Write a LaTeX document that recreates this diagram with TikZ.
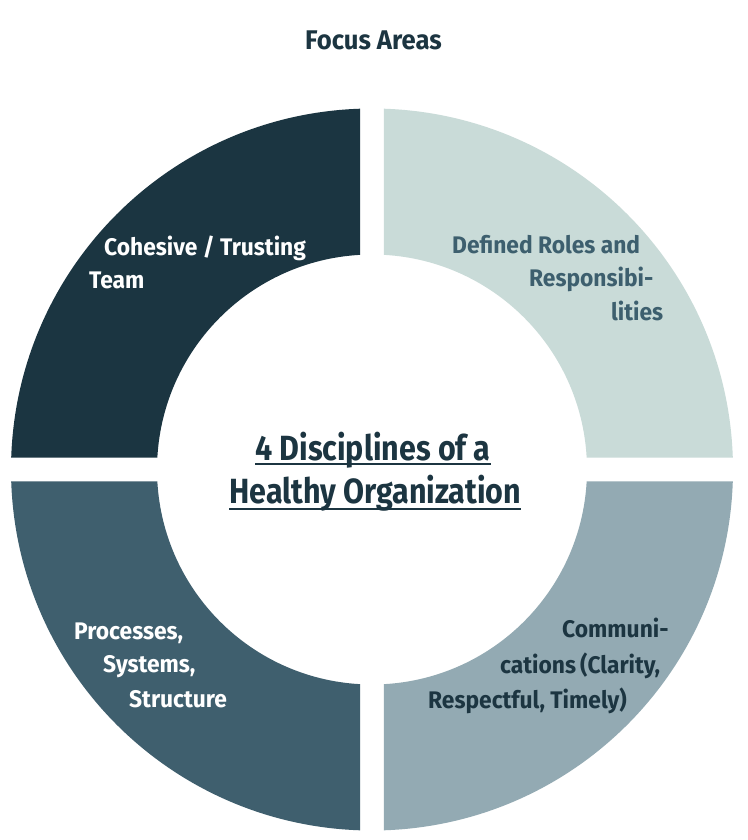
\documentclass[tikz,border=0pt]{standalone}
\usepackage{fontspec}
\setmainfont{Fira Sans}
\newfontfamily\labfont{Fira Sans}[FakeStretch=0.95]
\newfontfamily\titfont{Fira Sans}[FakeStretch=0.87]
\newfontfamily\headfont{Fira Sans}[FakeStretch=0.95]
\usetikzlibrary{calc}
\definecolor{segA}{HTML}{1B3541}
\definecolor{segB}{HTML}{C9DBD8}
\definecolor{segC}{HTML}{3F5F6E}
\definecolor{segD}{HTML}{93AAB3}
\definecolor{txtdark}{HTML}{1C3541}
\definecolor{txtmid}{HTML}{3D5F6E}
\tikzset{
  lab/.style={inner sep=0pt, anchor=base west, font=\labfont\bfseries\fontsize{24}{28}\selectfont},
  tit/.style={inner sep=0pt, anchor=base west, font=\titfont\bfseries\fontsize{35}{42}\selectfont, text=txtdark},
  head/.style={inner sep=0pt, anchor=base west, font=\headfont\bfseries\fontsize{27}{32}\selectfont, text=txtdark},
  uline/.style={line width=2.2pt, draw=txtdark}
}
\begin{document}
\begin{tikzpicture}
\useasboundingbox (0pt,0pt) rectangle (747pt,-840pt);
\fill[white] (0pt,0pt) rectangle (747pt,-840pt);
\coordinate (C) at (372pt,-469.5pt);
\pgfmathsetmacro\Ro{361}
\pgfmathsetmacro\Ri{215}
\pgfmathsetmacro\aR{asin(12/\Ro)}
\pgfmathsetmacro\ar{asin(12/\Ri)}
% top-left
\fill[segA] ($(C)+(90+\aR:\Ro pt)$) arc[start angle=90+\aR, end angle=180-\aR, radius=\Ro pt]
  -- ($(C)+(180-\ar:\Ri pt)$) arc[start angle=180-\ar, end angle=90+\ar, radius=\Ri pt] -- cycle;
% top-right
\fill[segB] ($(C)+(\aR:\Ro pt)$) arc[start angle=\aR, end angle=90-\aR, radius=\Ro pt]
  -- ($(C)+(90-\ar:\Ri pt)$) arc[start angle=90-\ar, end angle=\ar, radius=\Ri pt] -- cycle;
% bottom-left
\fill[segC] ($(C)+(180+\aR:\Ro pt)$) arc[start angle=180+\aR, end angle=270-\aR, radius=\Ro pt]
  -- ($(C)+(270-\ar:\Ri pt)$) arc[start angle=270-\ar, end angle=180+\ar, radius=\Ri pt] -- cycle;
% bottom-right
\fill[segD] ($(C)+(270+\aR:\Ro pt)$) arc[start angle=270+\aR, end angle=360-\aR, radius=\Ro pt]
  -- ($(C)+(360-\ar:\Ri pt)$) arc[start angle=360-\ar, end angle=270+\ar, radius=\Ri pt] -- cycle;

\node[head] (head) at (305pt,-50pt) {Focus Areas};

\node[lab, text=white] (a1) at (104pt,-255pt) {Cohesive / Trusting};
\node[lab, text=white] (a2) at (89pt,-288pt) {Team};

\node[lab, text=txtmid] (b1) at (452pt,-253pt) {Defined Roles and};
\node[lab, text=txtmid] (b2) at (529pt,-286pt) {Responsibi-};
\node[lab, text=txtmid] (b3) at (611pt,-320pt) {lities};

\node[lab, text=white] (c1) at (74pt,-639pt) {Processes,};
\node[lab, text=white] (c2) at (103pt,-672pt) {Systems,};
\node[lab, text=white] (c3) at (129pt,-707pt) {Structure};

\node[lab, text=txtdark] (d1) at (562pt,-637pt) {Communi-};
\node[lab, text=txtdark] (d2) at (500pt,-673pt) {cations\,(Clarity,};
\node[lab, text=txtdark] (d3) at (428pt,-708pt) {Respectful, Timely)};

\node[tit] (t1) at (255pt,-460pt) {4 Disciplines of a};
\node[tit] (t2) at (229pt,-503pt) {Healthy Organization};
\draw[uline] ([yshift=-4pt]t1.base west) -- ([yshift=-4pt]t1.base east);
\draw[uline] ([yshift=-6pt]t2.base west) -- ([yshift=-6pt]t2.base east);
\end{tikzpicture}
\end{document}
